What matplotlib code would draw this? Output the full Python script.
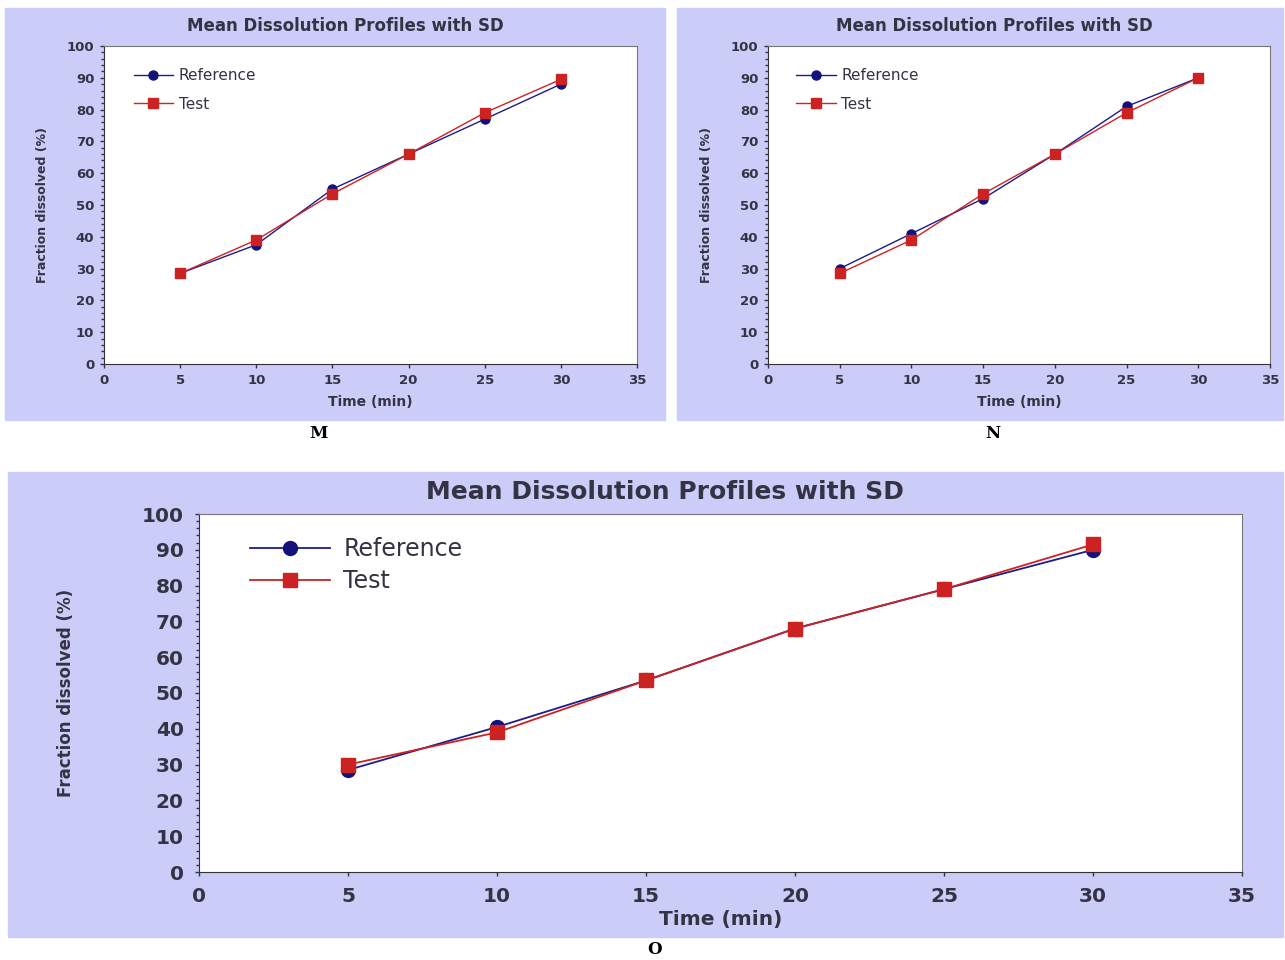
import matplotlib.pyplot as plt
from matplotlib.patches import Rectangle
from matplotlib.ticker import MultipleLocator

# время отбора проб, мин
time = [5, 10, 15, 20, 25, 30]

# средние профили растворения (%)
ref_m = [28.5, 37.5, 55, 66, 77, 88]
test_m = [28.5, 39, 53.5, 66, 79, 89.5]
ref_n = [30, 41, 52, 66, 81, 90]
test_n = [28.5, 39, 53.5, 66, 79, 90]
ref_o = [28.5, 40.5, 53.5, 68, 79, 90]
test_o = [30, 39, 53.5, 68, 79, 91.5]

W, H = 1285, 960
bg = '#ccccf8'
txt = '#333344'

fig = plt.figure(figsize=(W / 100, H / 100), dpi=100)


def box(x0, y0, x1, y1):
    # пиксели (от верхнего левого угла) -> доли фигуры
    return [x0 / W, 1 - y1 / H, (x1 - x0) / W, (y1 - y0) / H]


def panel(frame, ax_px, ref, test, st):
    x0, y0, x1, y1 = frame
    fig.patches.append(Rectangle((x0 / W, 1 - y1 / H), (x1 - x0) / W, (y1 - y0) / H,
                                 transform=fig.transFigure, color=bg, zorder=-10))
    ax = fig.add_axes(box(*ax_px))
    ax.set_facecolor('white')
    ax.plot(time, ref, color='#1c1c8a', lw=st['lw'], marker='o', ms=st['ms'],
            mfc='#12127a', mec='#12127a', label='Reference')
    ax.plot(time, test, color='#cc2222', lw=st['lw'], marker='s', ms=st['ms'],
            mfc='#cc2222', mec='#cc2222', label='Test')
    ax.set_xlim(0, 35)
    ax.set_ylim(0, 100)
    ax.xaxis.set_major_locator(MultipleLocator(5))
    ax.yaxis.set_major_locator(MultipleLocator(10))
    ax.yaxis.set_minor_locator(MultipleLocator(2))
    ax.tick_params(axis='both', which='major', labelsize=st['tick'], colors=txt,
                   length=3, width=1, pad=st['tpad'])
    ax.tick_params(axis='y', which='minor', length=2.5, width=1, color=txt)
    for lab in ax.get_xticklabels() + ax.get_yticklabels():
        lab.set_fontweight('bold')
    for s in ['left', 'bottom']:
        ax.spines[s].set_color('#333')
    for s in ['top', 'right']:
        ax.spines[s].set_color('#777')
    ax.set_xlabel('Time (min)', fontsize=st['xl'], fontweight='bold', color=txt,
                  labelpad=st['xpad'])
    ax.set_ylabel('Fraction dissolved (%)', fontsize=st['yl'], fontweight='bold',
                  color=txt, labelpad=st['ypad'])
    ax.legend(loc='upper left', bbox_to_anchor=st['anchor'], borderaxespad=0,
              frameon=False, fontsize=st['leg'], labelcolor=txt,
              handlelength=st['hl'], handletextpad=st['htp'],
              labelspacing=st['ls'])
    return ax


small = dict(lw=1.0, ms=6.5, tick=9.5, tpad=4, xl=10, xpad=6, yl=9, ypad=13,
             leg=11, hl=2.6, htp=0.35, ls=0.9, anchor=(0.044, 0.95))
large = dict(lw=1.3, ms=10, tick=14.5, tpad=8, xl=14.5, xpad=3, yl=12, ypad=48,
             leg=17, hl=3.4, htp=0.55, ls=0.35, anchor=(0.04, 0.962))

panel((5, 8, 665, 420), (104, 46, 637, 364), ref_m, test_m, small)
panel((677, 8, 1283, 420), (768, 46, 1270, 364), ref_n, test_n, small)
panel((8, 472, 1283, 937), (199, 514, 1242, 872), ref_o, test_o, large)

for x, y, s in [(345, 26, 12), (994, 26, 12), (665, 492, 18)]:
    fig.text(x / W, 1 - y / H, 'Mean Dissolution Profiles with SD', ha='center',
             va='center', fontsize=s, fontweight='bold', color=txt)

for x, y, s in [(318, 433, 'M'), (993, 433, 'N'), (655, 950, 'O')]:
    fig.text(x / W, 1 - y / H, s, ha='center', va='center', fontsize=12,
             fontweight='bold', family='DejaVu Serif', color='black')

fig.savefig('out.png', dpi=100, facecolor='white')
